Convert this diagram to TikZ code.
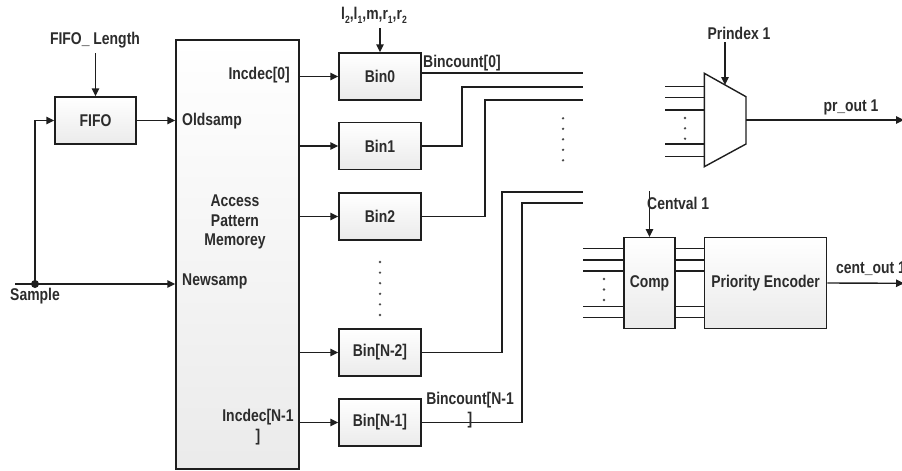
\documentclass[tikz,border=0pt]{standalone}
\usepackage{fontspec}
\setmainfont{Liberation Sans}[FakeStretch=0.82]
\usetikzlibrary{arrows.meta}
\definecolor{ln}{HTML}{1E1E1E}
\definecolor{tx}{HTML}{2C2C2C}
\newcommand\lblfont{\fontsize{17}{19.5}\selectfont\bfseries}
\newcommand\sbs[1]{\raisebox{-0.25em}{\fontsize{10.5}{10.5}\selectfont #1}}
\begin{document}
\begin{tikzpicture}[x=1pt,y=-1pt,
  wire/.style={draw=ln, line width=1.4pt},
  arr/.style={wire, -{Triangle[length=8pt,width=7.5pt]}},
  lbl/.style={text=tx, font=\lblfont, inner sep=0pt},
  box/.style={draw=ln, line width=1.4pt, top color=white, bottom color=gray!16, inner sep=0pt, text=tx, font=\lblfont},
  binbox/.style={box, minimum width=82pt, minimum height=47pt},
  dotc/.style={fill=ln!80}]
\useasboundingbox (0,0) rectangle (902,471);
\clip (0,0) rectangle (902,471);

% FIFO part
\node[box, minimum width=81pt, minimum height=47pt] (fifo) at (95.5,120.5) {FIFO};
\node[lbl] (fl) at (95,40) {FIFO\_ Length};
\coordinate (flb) at (95.5,53);
\draw[arr] (flb) -- (fifo.north);

% Memory
\node[box, minimum width=123pt, minimum height=429pt] (mem) at (237.5,254.5) {};
\node[lbl, align=center] (apm) at (235,222) {Access\\Pattern\\Memorey};
\node[lbl, anchor=west] (old) at (182,121) {Oldsamp};
\node[lbl, anchor=west] (new) at (182,281) {Newsamp};
\node[lbl, anchor=east] (inc0) at (290,75) {Incdec[0]};
\node[lbl, align=center] (incn) at (258,427) {Incdec[N-1\\]};

\draw[arr] (fifo.east) -- (mem.west |- fifo.east);

% Sample
\coordinate (sin) at (15,284);
\coordinate (sd) at (35,284);
\node[lbl] (samp) at (35,296) {Sample};
\draw[wire] (sin) -- (sd);
\draw[arr] (sd) -- (mem.west |- sd);
\draw[arr] (sd) |- (fifo.west);
\fill[ln] (sd) circle (4);

% Bins
\node[binbox] (b0) at (380,76.5) {Bin0};
\node[binbox] (b1) at (380,146) {Bin1};
\node[binbox] (b2) at (380,216.5) {Bin2};
\node[binbox] (bn2) at (380,352.5) {Bin[N-2]};
\node[binbox] (bn1) at (380,422.5) {Bin[N-1]};
\foreach \b in {b0,b1,b2,bn2,bn1}
  \draw[arr] (mem.east |- \b.west) -- (\b.west);

\node[lbl] (lm) at (374,15) {l\sbs{2},l\sbs{1},m,r\sbs{1},r\sbs{2}};
\coordinate (lmb) at (380,28);
\draw[arr] (lmb) -- (b0.north);

\foreach \y in {262,272.6,283.2,293.8,304.4,315}
  \fill[dotc] (380,\y) circle (1.3);

% Bus lines
\coordinate (e1) at (583,73);
\coordinate (k2) at (462,87);  \coordinate (e2) at (583,87);
\coordinate (k3) at (485,100); \coordinate (e3) at (583,100);
\coordinate (k4) at (502,192); \coordinate (e4) at (583,192);
\coordinate (k5) at (522,203); \coordinate (e5) at (583,203);
\draw[wire] (b0.east |- e1) -- (e1);
\draw[wire] (b1.east) -| (k2) -- (e2);
\draw[wire] (b2.east) -| (k3) -- (e3);
\draw[wire] (bn2.east) -| (k4) -- (e4);
\draw[wire] (bn1.east) -| (k5) -- (e5);
\node[lbl, anchor=west] (bc0) at (423,63) {Bincount[0]};
\node[lbl, align=center] (bcn) at (470,410) {Bincount[N-1\\]};
\foreach \y in {118.3,128.8,139.3,149.8,160.3}
  \fill[dotc] (563,\y) circle (1.3);

% Mux
\coordinate (m1) at (704.3,73.3);
\coordinate (m2) at (746,96.7);
\coordinate (m3) at (746,144);
\coordinate (m4) at (704.3,166.7);
\draw[wire, fill=white] (m1) -- (m2) -- (m3) -- (m4) -- cycle;
\foreach \y [count=\i] in {86.7,97.3,110,144,156.7} {
  \coordinate (mi\i) at (665,\y);
  \draw[wire] (mi\i) -- (704.3,\y);
}
\foreach \y in {118,128.3,138.7}
  \fill[dotc] (685,\y) circle (1.3);
\node[lbl] (pri) at (739,33) {Prindex 1};
\coordinate (pct) at (725,42);
\coordinate (pcb) at (725,85);
\draw[arr] (pct) -- (pcb);
\coordinate (mo) at (746,120);
\coordinate (po) at (904,120);
\draw[arr] (mo) -- (po);
\node[lbl] (pro) at (851,107) {pr\_out 1};

% Comp and Priority Encoder
\node[box, minimum width=51pt, minimum height=90.6pt] (comp) at (649.5,283) {Comp};
\node[box, minimum width=122.5pt, minimum height=90.6pt] (pe) at (765.5,283) {Priority Encoder};
\coordinate (cvt) at (649.5,191);
\draw[arr] (cvt) -- (comp.north);
\node[lbl, anchor=west] (cv) at (647,203) {Centval 1};
\foreach \y [count=\i] in {248.3,260,271,306.7,317.7} {
  \coordinate (ci\i) at (583,\y);
  \draw[wire] (ci\i) -- (comp.west |- ci\i);
  \draw[wire] (comp.east |- ci\i) -- (pe.west |- ci\i);
}
\foreach \y in {279,289.5,300}
  \fill[dotc] (604,\y) circle (1.3);
\coordinate (co) at (904,283.3);
\draw[arr] (pe.east) -- (co);
\node[lbl, anchor=west] (cout) at (836,269) {cent\_out 1};
\end{tikzpicture}
\end{document}
